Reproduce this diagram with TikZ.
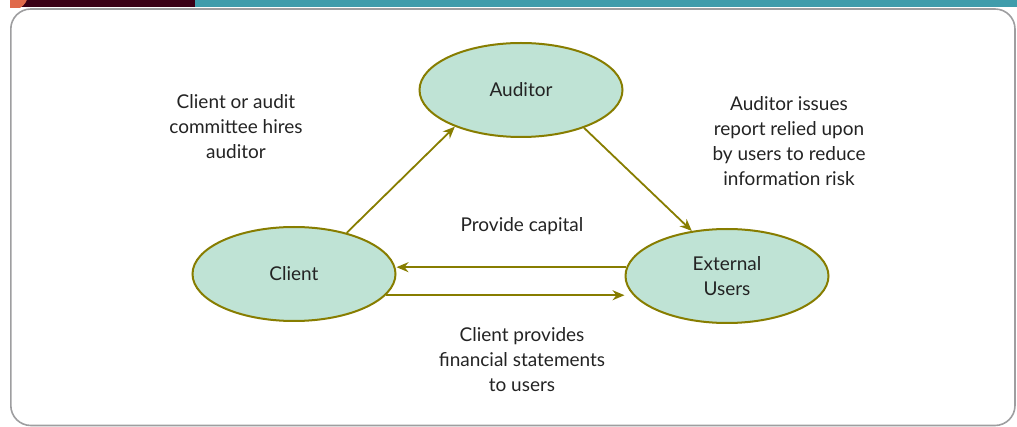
\documentclass[tikz,border=0pt]{standalone}
\usepackage{fontspec}
\setmainfont{Lato}
\usepackage{tikz}
\usetikzlibrary{shapes.geometric, arrows.meta, positioning, calc}
\usepackage{xcolor}
\definecolor{mint}{HTML}{BFE3D5}
\definecolor{olive}{HTML}{877D00}
\definecolor{teal}{HTML}{3F9CAB}
\definecolor{maroon}{HTML}{3B0016}
\definecolor{coral}{HTML}{E0694A}
\definecolor{framegray}{HTML}{9E9EA0}
\definecolor{ink}{HTML}{232323}

\begin{document}
\begin{tikzpicture}[x=1pt,y=-1pt,
	party/.style={ellipse,draw=olive,line width=2pt,fill=mint,minimum width=203pt,minimum height=94pt,inner sep=0pt,text=ink,align=center,font=\fontsize{19}{25}\selectfont},
	link/.style={olive,line width=1.8pt,-{Stealth[length=12pt,width=10pt]}},
	note/.style={text=ink,align=center,font=\fontsize{19}{25}\selectfont}]
				\useasboundingbox (0,0) rectangle (1017,427);
				% header bar
				\fill[teal] (195,0) rectangle (1017,7.5);
				\fill[maroon] (10,0) rectangle (195,7.5);
				\begin{scope}
					\clip (10,0) rectangle (195,7.5);
					\fill[coral] (12,-6) circle (16);
				\end{scope}
				\draw[framegray,line width=1.6pt,rounded corners=20pt] (10.8,9) rectangle (1015,425.5);
				% the three parties
				\node[party] (aud) at (521,90) {Auditor};
				\node[party] (cli) at (294,274) {Client};
				\node[party] (ext) at (727,276) {External\\Users};
				% connections
				\draw[link] (cli.38) -- (aud.209);
				\draw[link] (aud.329) -- (ext.128);
				\draw[link] (ext.175) -- (ext.175 -| cli.east);
				\draw[link] (cli.-13) -- (cli.-13 -| ext.west);
				% labels
				\node[note] (hire) at (236,127) {Client or audit\\committee hires\\auditor};
				\node[note] (rely) at (789,141) {Auditor issues\\report relied upon\\by users to reduce\\information risk};
				\node[note] (cap) at (522,226) {Provide capital};
				\node[note] (stmt) at (522,360) {Client provides\\financial statements\\to users};
			\end{tikzpicture}
\end{document}
